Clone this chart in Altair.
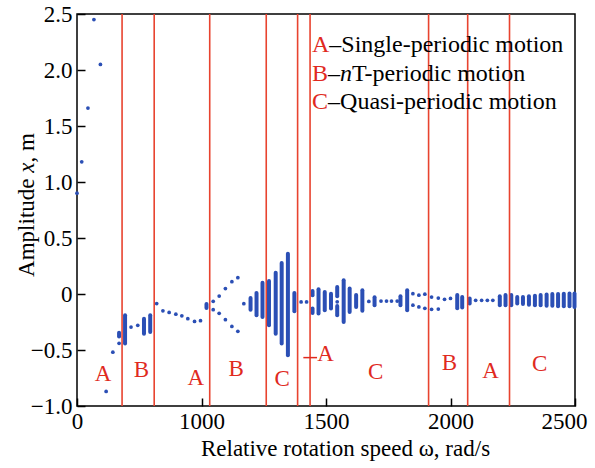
import altair as alt
import pandas as pd

# ---------------- data ----------------
dot_x = [500, 519, 544, 568, 594, 617, 644, 669, 717, 744,
         820, 845, 870, 897, 921, 945, 972, 996,
         1047, 1047, 1071, 1071, 1096, 1096, 1122, 1122, 1146, 1146, 1170,
         1400, 1422, 1545, 1672, 1721, 1743, 1763, 1786,
         1849, 1849, 1873, 1873, 1897, 1897, 1924, 1924, 1951, 1951, 1976, 2000,
         2101, 2125, 2148, 2170]
dot_y = [0.90, 1.18, 1.66, 2.45, 2.05, -0.87, -0.52, -0.44, -0.295, -0.28,
         -0.085, -0.15, -0.165, -0.18, -0.195, -0.22, -0.245, -0.238,
         -0.065, -0.14, -0.018, -0.172, 0.048, -0.229, 0.11, -0.29, 0.146, -0.333, -0.086,
         -0.071, -0.071, -0.07, -0.066, -0.063, -0.063, -0.063, -0.063,
         0.003, -0.10, -0.011, -0.116, -0.002, -0.128, -0.027, -0.137, -0.036, -0.134, -0.047, -0.04,
         -0.056, -0.056, -0.056, -0.056]

bar_x = [669, 693, 769, 794, 1020, 1197, 1221, 1245, 1271, 1298, 1322, 1347, 1373,
         1446, 1446, 1470, 1495, 1520, 1545, 1545, 1571, 1595, 1621, 1646, 1695,
         1799, 1826, 2027, 2047, 2077, 2198, 2221, 2244, 2268, 2291, 2315, 2339,
         2362, 2386, 2409, 2432, 2455, 2478, 2498]
bar_hi = [-0.345, -0.19, -0.22, -0.19, -0.09, -0.036, 0.009, 0.10, 0.116, 0.19, 0.277, 0.36, 0.009,
          0.027, -0.13, 0.042, 0.018, 0.003, 0.062, -0.107, 0.122, 0.048, -0.01, 0.033, -0.03,
          -0.02, 0.033, -0.01, -0.027, -0.04, -0.02, -0.01, -0.01, -0.026, -0.026, -0.02, -0.015,
          -0.01, -0.005, 0.0, 0.0, 0.003, 0.005, 0.005]
bar_lo = [-0.38, -0.443, -0.354, -0.34, -0.125, -0.14, -0.19, -0.205, -0.28, -0.354, -0.443, -0.547, -0.155,
          -0.011, -0.17, -0.175, -0.146, -0.13, -0.02, -0.19, -0.25, -0.16, -0.116, -0.15, -0.10,
          -0.10, -0.146, -0.128, -0.12, -0.085, -0.10, -0.10, -0.10, -0.085, -0.09, -0.095, -0.10,
          -0.10, -0.105, -0.105, -0.11, -0.11, -0.11, -0.115]

boundary_x = [681, 810, 1033, 1260, 1386, 1436, 1912, 2069, 2237]

region_text = ["A", "B", "A", "B", "C", "C", "B", "A", "C"]
region_x = [605, 759, 977, 1139, 1324, 1699, 1996, 2161, 2358]
region_y = [-0.717, -0.681, -0.748, -0.672, -0.763, -0.699, -0.619, -0.69, -0.628]

pointer_x = [1409, 1464]
pointer_y = -0.568
pointer_label_x = 1498
pointer_label_y = -0.538

legend_x = 1444
legend_y = [2.22, 1.968, 1.714]

x_ticks = [500, 1000, 1500, 2000, 2500]
y_ticks = [-1.0, -0.5, 0.0, 0.5, 1.0, 1.5, 2.0, 2.5]

# ---------------- style ----------------
BLUE = "#2b4fb5"
RED_LINE = "#e8432f"
RED_TEXT = "#e02a1e"
FONT = "Liberation Serif"

x_scale = alt.Scale(domain=[500, 2500], nice=False, zero=False)
y_scale = alt.Scale(domain=[-1.0, 2.5], nice=False, zero=False)

x_axis = alt.Axis(
    values=x_ticks,
    labelExpr="datum.value == 500 ? '0' : format(datum.value, 'd')",
    title="Relative rotation speed ω, rad/s",
    offset=-8, tickSize=8, tickWidth=1.5, tickColor="black",
    domain=False, grid=False,
    labelFont=FONT, labelFontSize=23, labelColor="black", labelPadding=4,
    labelOverlap=False, labelFlush=False,
    labelOffset={"condition": {"test": "datum.value == 2500", "value": -11}, "value": 0},
    titleFont=FONT, titleFontSize=23, titleFontWeight="normal", titleColor="black",
    titleX=268, titlePadding=4,
)
y_axis = alt.Axis(
    values=y_ticks,
    labelExpr="datum.value == 0 ? '0' : format(datum.value, '.1f')",
    title=None,
    offset=-8, tickSize=8, tickWidth=1.5, tickColor="black",
    domain=False, grid=False,
    labelFont=FONT, labelFontSize=23, labelColor="black", labelPadding=5,
    labelOverlap=False, labelFlush=False,
)


def X(field="x"):
    return alt.X(f"{field}:Q", scale=x_scale, axis=x_axis)


def Y(field="y"):
    return alt.Y(f"{field}:Q", scale=y_scale, axis=y_axis)


dots = pd.DataFrame({"x": dot_x, "y": dot_y})
bars = pd.DataFrame({"x": bar_x, "y": bar_hi, "y2": bar_lo})
bounds = pd.DataFrame({"x": boundary_x})
regions = pd.DataFrame({"x": region_x, "y": region_y, "t": region_text})

bar_layer = alt.Chart(bars).mark_rule(color=BLUE, strokeWidth=4, strokeCap="round").encode(
    x=X(), y=Y(), y2="y2:Q")
dot_layer = alt.Chart(dots).mark_circle(color=BLUE, size=14, opacity=1).encode(x=X(), y=Y())
bound_layer = alt.Chart(bounds).mark_rule(color=RED_LINE, strokeWidth=1.6).encode(x=X())
region_layer = alt.Chart(regions).mark_text(
    color=RED_TEXT, font=FONT, fontSize=23, align="center", baseline="middle").encode(
    x=X(), y=Y(), text="t:N")

pointer = alt.Chart(pd.DataFrame({"x": [pointer_x[0]], "x2": [pointer_x[1]], "y": [pointer_y]})).mark_rule(
    color=RED_TEXT, strokeWidth=1.5).encode(x=X(), x2="x2:Q", y=Y())


def txt(x, y, s, color="black", dx=0, size=24, style="normal", align="left"):
    return alt.Chart(pd.DataFrame({"x": [x], "y": [y], "t": [s]})).mark_text(
        color=color, font=FONT, fontSize=size, fontStyle=style, align=align,
        baseline="middle", dx=dx).encode(x=X(), y=Y(), text="t:N")


pointer_label = txt(pointer_label_x, pointer_label_y, "A", RED_TEXT, size=23, align="center")

legend_layers = [
    txt(legend_x, legend_y[0], "A", RED_TEXT),
    txt(legend_x, legend_y[0], "–Single-periodic motion", dx=17.3),
    txt(legend_x, legend_y[1], "B", RED_TEXT),
    txt(legend_x, legend_y[1], "–", dx=16),
    txt(legend_x, legend_y[1], "n", dx=28, style="italic"),
    txt(legend_x, legend_y[1], "T-periodic motion", dx=40),
    txt(legend_x, legend_y[2], "C", RED_TEXT),
    txt(legend_x, legend_y[2], "–Quasi-periodic motion", dx=16),
]


def ytitle(s, ypix, style="normal"):
    return alt.Chart(pd.DataFrame({"t": [s]})).mark_text(
        angle=270, align="left", baseline="middle", font=FONT, fontSize=23,
        fontStyle=style, color="black").encode(
        x=alt.value(-50), y=alt.value(ypix), text="t:N")


c = 191
ytitle_layers = [
    ytitle("Amplitude", c + 71.9),
    ytitle("x", c - 32.2, "italic"),
    ytitle(", m", c - 42.4),
]

chart = alt.layer(
    bar_layer, dot_layer, bound_layer, region_layer, pointer, pointer_label,
    *legend_layers, *ytitle_layers
).properties(
    width=498, height=392,
    padding={"left": 77, "top": 14, "right": 20, "bottom": 62},
    autosize=alt.AutoSizeParams(type="none"),
    background="white",
).configure_view(stroke="black", strokeWidth=1.5)

chart.save("out.html", embed_options={"renderer": "svg", "actions": False})
